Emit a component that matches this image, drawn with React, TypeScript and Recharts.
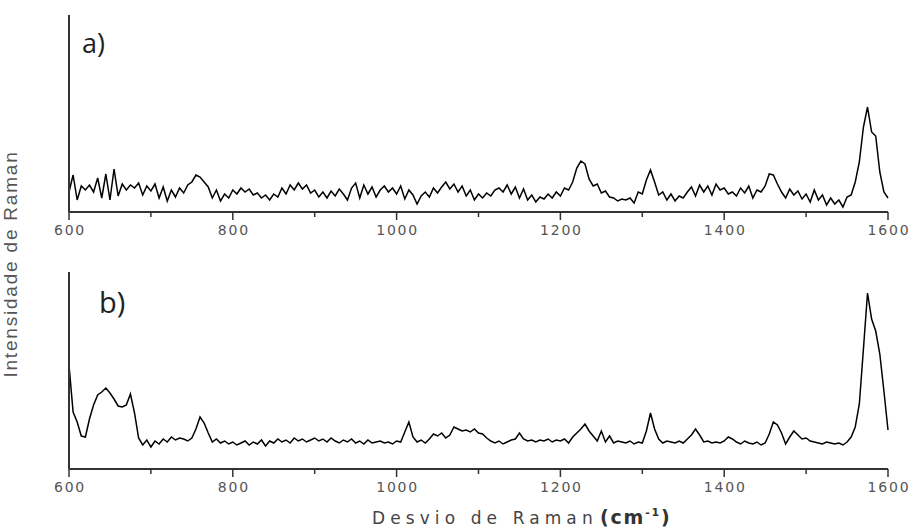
import { LineChart, Line, XAxis, YAxis } from 'recharts'

// Raman shift grid, 600–1600 cm-1 every 5 cm-1
const wavenumbers = Array.from({ length: 201 }, (_, i) => 600 + i * 5)

// a) spectrum, one row per 100 cm-1
const intensityA = [
  20, 37, 12, 26, 22, 27, 20, 34, 14, 38, 12, 43, 16, 28, 22, 27, 24, 29, 17, 26,
  21, 28, 14, 25, 11, 22, 15, 24, 19, 27, 30, 37, 35, 30, 25, 14, 22, 11, 18, 14,
  22, 18, 24, 20, 23, 17, 19, 14, 17, 12, 18, 15, 24, 18, 27, 22, 29, 23, 27, 19,
  22, 15, 20, 14, 21, 16, 23, 18, 12, 24, 29, 14, 27, 18, 25, 15, 22, 26, 20, 24,
  18, 26, 13, 22, 17, 8, 16, 20, 15, 24, 19, 25, 30, 23, 28, 20, 26, 16, 22, 12,
  18, 14, 19, 16, 22, 24, 20, 27, 18, 25, 14, 23, 12, 17, 10, 15, 13, 18, 14, 20,
  16, 24, 22, 30, 44, 51, 48, 33, 26, 28, 19, 21, 15, 14, 11, 13, 12, 14, 9, 20,
  18, 32, 42, 30, 17, 20, 12, 18, 11, 16, 14, 20, 25, 16, 27, 20, 26, 17, 28, 22,
  24, 18, 20, 16, 24, 19, 26, 14, 22, 20, 26, 38, 37, 28, 20, 14, 23, 17, 21, 13,
  18, 10, 22, 12, 17, 7, 14, 8, 12, 5, 15, 17, 30, 50, 85, 105, 80, 76, 40, 20,
  14,
]

// b) spectrum, one row per 100 cm-1
const intensityB = [
  104, 57, 47, 33, 32, 50, 64, 74, 77, 81, 76, 70, 63, 62, 64, 75, 56, 31, 24, 29,
  22, 28, 25, 30, 27, 32, 29, 31, 30, 28, 31, 40, 52, 46, 36, 27, 30, 26, 28, 25,
  27, 24, 26, 28, 24, 27, 25, 29, 23, 28, 26, 30, 27, 29, 26, 31, 28, 30, 27, 29,
  31, 28, 30, 27, 31, 28, 26, 29, 27, 30, 26, 28, 25, 29, 26, 27, 28, 26, 27, 25,
  28, 27, 37, 47, 32, 27, 29, 26, 30, 35, 33, 36, 31, 34, 42, 40, 38, 39, 37, 40,
  36, 35, 31, 28, 26, 28, 25, 27, 29, 30, 36, 30, 28, 29, 27, 29, 28, 30, 27, 29,
  28, 30, 26, 32, 36, 40, 45, 38, 33, 28, 38, 27, 33, 26, 28, 27, 26, 28, 25, 27,
  26, 38, 56, 40, 30, 26, 28, 27, 26, 28, 26, 30, 34, 40, 34, 27, 28, 26, 27, 26,
  28, 32, 30, 27, 25, 28, 26, 25, 27, 24, 26, 35, 47, 44, 36, 25, 32, 38, 34, 30,
  31, 28, 27, 26, 25, 27, 26, 25, 26, 24, 27, 32, 42, 65, 120, 176, 150, 138, 115, 78,
  39,
]

const tickValues = [600, 700, 800, 900, 1000, 1100, 1200, 1300, 1400, 1500, 1600]
const labelledTicks = [600, 800, 1000, 1200, 1400, 1600]

// labelled ticks get the long mark, the in-between ones a short one
function WaveTick({ x, y, payload }: any) {
  const labelled = labelledTicks.includes(payload.value)
  return (
    <g>
      <path d={`M${x},${y}V${y + (labelled ? 8 : 5)}`} stroke="#333333" strokeWidth={1.5} fill="none" />
      <text
        x={x + 1}
        y={y + 23}
        textAnchor="middle"
        fontSize={14}
        letterSpacing={1.8}
        fill="#555555"
        fontFamily="DejaVu Sans"
      >
        {labelled ? payload.value : ''}
      </text>
    </g>
  )
}

function SpectrumPanel({ values, top }: { values: number[]; top: number }) {
  const data = wavenumbers.map((w, i) => ({ w, v: values[i] }))
  return (
    <div style={{ position: 'absolute', left: 0, top }}>
      <LineChart width={912} height={250} data={data} margin={{ top: 15, right: 24, bottom: 8, left: 68 }}>
        <XAxis
          dataKey="w"
          type="number"
          domain={[600, 1600]}
          ticks={tickValues}
          interval={0}
          height={30}
          tick={<WaveTick />}
          tickLine={false}
          tickSize={0}
          tickMargin={0}
          axisLine={{ stroke: '#333333', strokeWidth: 2 }}
        />
        <YAxis domain={[0, 197]} width={1} tick={false} axisLine={{ stroke: '#333333', strokeWidth: 2 }} />
        <Line dataKey="v" stroke="#000" strokeWidth={1.5} dot={false} isAnimationActive={false} />
      </LineChart>
    </div>
  )
}

const textBase = { position: 'absolute' as const, whiteSpace: 'nowrap' as const, margin: 0 }

export default function App() {
  return (
    <div style={{ position: 'absolute', left: 0, top: 0, width: 912, height: 529 }}>
      <SpectrumPanel values={intensityA} top={0} />
      <SpectrumPanel values={intensityB} top={257} />
      <div style={{ ...textBase, left: 82, top: 29, fontSize: 27, lineHeight: '27px', fontFamily: 'Open Sans', color: '#222' }}>
        a)
      </div>
      <div style={{ ...textBase, left: 99, top: 287, fontSize: 29, lineHeight: '29px', fontFamily: 'Open Sans', color: '#222' }}>
        b)
      </div>
      <div
        style={{
          ...textBase,
          left: 11 - 150,
          top: 264 - 10,
          width: 300,
          textAlign: 'center',
          fontSize: 19,
          lineHeight: '20px',
          letterSpacing: 1.8,
          fontFamily: 'Liberation Sans',
          color: '#555',
          transform: 'rotate(-90deg)',
          transformOrigin: 'center',
        }}
      >
        Intensidade de Raman
      </div>
      <div style={{ ...textBase, left: 372, top: 510, fontSize: 17, lineHeight: '17px', letterSpacing: 5.1, fontFamily: 'DejaVu Sans', color: '#444' }}>
        Desvio de Raman
      </div>
      <div
        style={{
          ...textBase,
          left: 600,
          top: 508,
          fontSize: 19,
          lineHeight: '19px',
          fontWeight: 'bold',
          letterSpacing: 1.8,
          fontFamily: 'DejaVu Sans',
          color: '#333',
        }}
      >
        (cm<span style={{ fontSize: 11, position: 'relative', top: -8 }}>-1</span>)
      </div>
    </div>
  )
}
